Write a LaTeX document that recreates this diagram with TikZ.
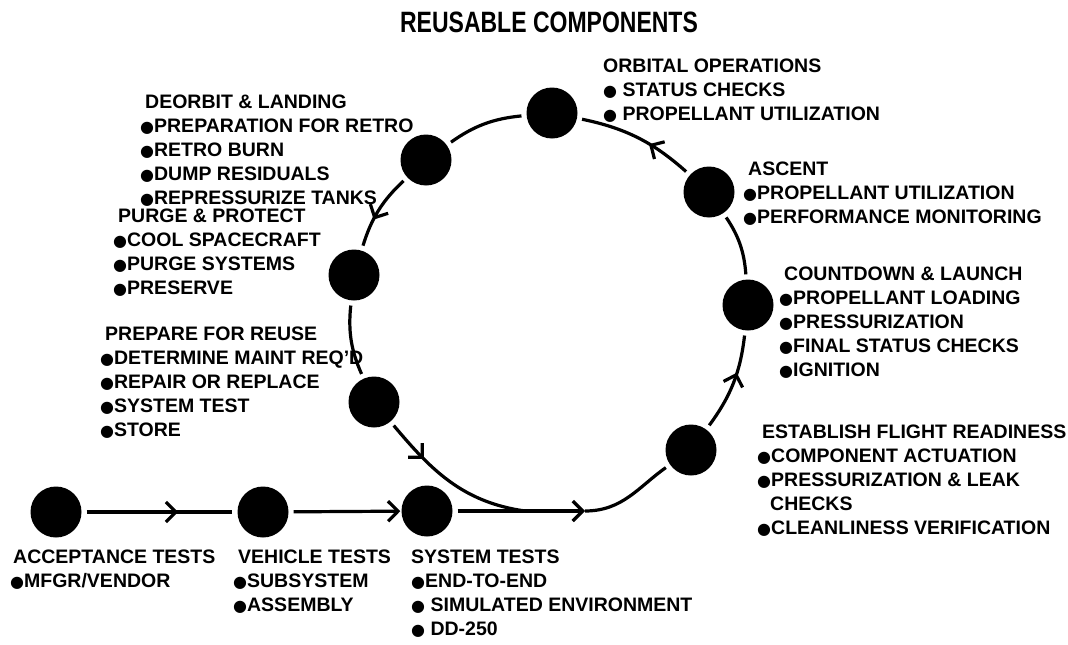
\documentclass[tikz,border=0pt]{standalone}
\usepackage{fontspec}
\usepackage{graphicx}
\setmainfont{Liberation Sans}
\newfontfamily\dvs{DejaVu Sans}
\usetikzlibrary{arrows.meta,decorations.markings}
\newcommand\bul{{\dvs\fontsize{16}{16}\selectfont ●}}
\newcommand\hd{\hspace*{5pt}}
\tikzset{
  stage/.style={circle, fill=black, minimum size=51pt, inner sep=0pt},
  lbl/.style={anchor=base west, align=left, inner sep=0pt, font=\fontsize{19.5}{24}\selectfont\bfseries},
  ttl/.style={anchor=base, inner sep=0pt, font=\fontsize{23}{28}\selectfont\bfseries},
  link/.style={line width=3.2pt, shorten <=5pt, shorten >=5pt},
  barb/.style={-{Straight Barb[length=10pt,width=20pt]}},
  midarrow/.style={postaction={decorate}, decoration={markings,
      mark=at position #1 with {\arrow{Straight Barb[length=10pt,width=20pt]}}}}
}
\begin{document}
\begin{tikzpicture}[x=1pt,y=1pt]
\useasboundingbox (0,0) rectangle (1068,-645);
% stages
\node[stage] (acc) at (56,-512) {};
\node[stage] (veh) at (263,-512) {};
\node[stage] (sys) at (427,-511) {};
\node[stage] (flt) at (691,-450) {};
\node[stage] (cnt) at (748,-305) {};
\node[stage] (asc) at (709,-192) {};
\node[stage] (orb) at (552,-113) {};
\node[stage] (deo) at (426,-160) {};
\node[stage] (prg) at (354,-275) {};
\node[stage] (prp) at (374,-402) {};
\coordinate (m1) at (585,-511);
\coordinate (mg) at (525,-511);
% connectors
\draw[link, midarrow=0.62] (acc) -- (veh);
\draw[link, barb, shorten >=1pt] (veh) -- (sys);
\draw[link, barb, shorten >=0pt] (sys) -- (m1);
\draw[link, shorten <=0pt] (m1) to[out=0,in=215] (flt);
\draw[link, midarrow=0.6] (flt) to[bend right=15] (cnt);
\draw[link] (cnt) to[bend right=15] (asc);
\draw[link, midarrow=0.4] (asc) to[bend right=15] (orb);
\draw[link] (orb) to[bend right=15] (deo);
\draw[link, midarrow=0.62] (deo) to[bend right=15] (prg);
\draw[link] (prg) to[bend right=15] (prp);
\draw[link, midarrow=0.3, shorten >=0pt] (prp) to[out=-50,in=172] (mg);
% texts (anchor = baseline of last line)
\node[ttl] (title) at (549,-32) {\scalebox{1}[1.28]{REUSABLE COMPONENTS}};
\node[lbl] (tdeo) at (140,-204) {\hd DEORBIT \& LANDING\\ \bul PREPARATION FOR RETRO\\ \bul RETRO BURN\\ \bul DUMP RESIDUALS\\ \bul REPRESSURIZE TANKS};
\node[lbl] (torb) at (603,-120) {ORBITAL OPERATIONS\\ \bul\ STATUS CHECKS\\ \bul\ PROPELLANT UTILIZATION};
\node[lbl] (tasc) at (743,-223) {\hd ASCENT\\ \bul PROPELLANT UTILIZATION\\ \bul PERFORMANCE MONITORING};
\node[lbl] (tcnt) at (779,-376) {\hd COUNTDOWN \& LAUNCH\\ \bul PROPELLANT LOADING\\ \bul PRESSURIZATION\\ \bul FINAL STATUS CHECKS\\ \bul IGNITION};
\node[lbl] (tprg) at (113,-294) {\hd PURGE \& PROTECT\\ \bul COOL SPACECRAFT\\ \bul PURGE SYSTEMS\\ \bul PRESERVE};
\node[lbl] (tprp) at (100,-436) {\hd PREPARE FOR REUSE\\ \bul DETERMINE MAINT REQ'D\\ \bul REPAIR OR REPLACE\\ \bul SYSTEM TEST\\ \bul STORE};
\node[lbl] (tflt) at (757,-534) {\hd ESTABLISH FLIGHT READINESS\\ \bul COMPONENT ACTUATION\\ \bul PRESSURIZATION \& LEAK\\ \hspace*{13pt}CHECKS\\ \bul CLEANLINESS VERIFICATION};
\node[lbl] (tacc) at (10,-587) {\hspace*{3pt}ACCEPTANCE TESTS\\ \bul MFGR/VENDOR};
\node[lbl] (tveh) at (233,-611) {\hd VEHICLE TESTS\\ \bul SUBSYSTEM\\ \bul ASSEMBLY};
\node[lbl] (tsys) at (411,-635) {SYSTEM TESTS\\ \bul END-TO-END\\ \bul\ SIMULATED ENVIRONMENT\\ \bul\ DD-250};
\end{tikzpicture}
\end{document}
